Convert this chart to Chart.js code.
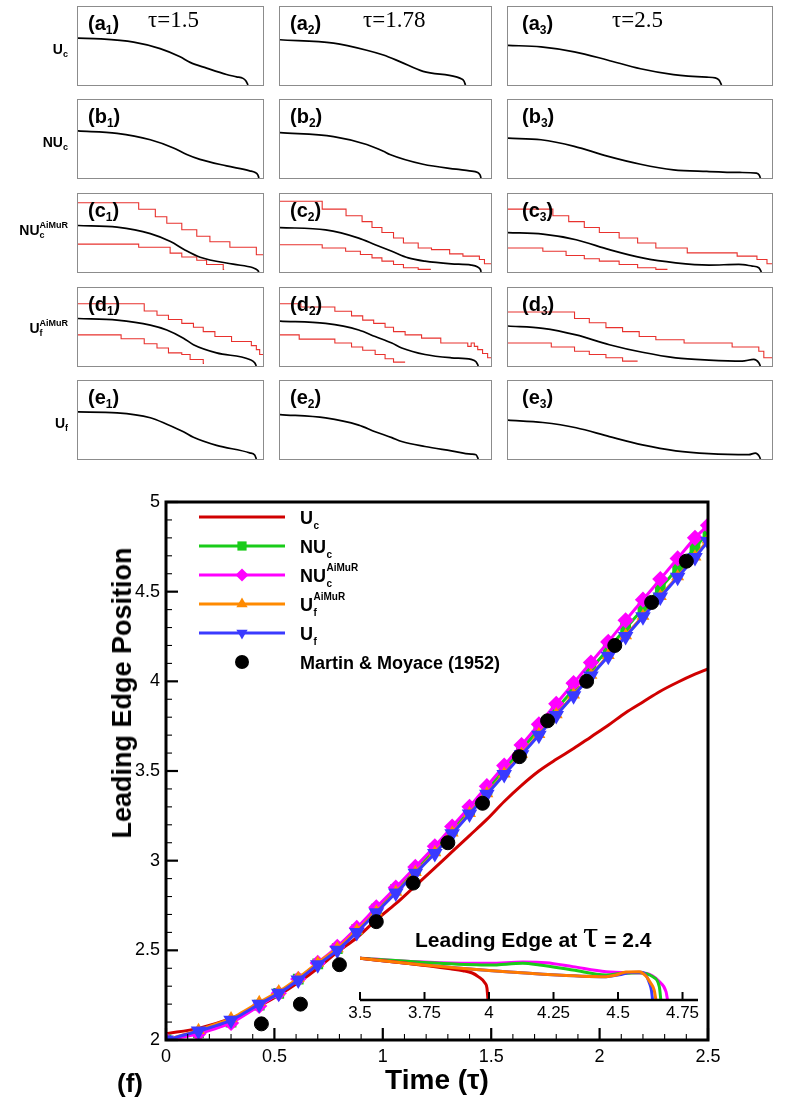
<!DOCTYPE html>
<html>
<head>
<meta charset="utf-8">
<title>Leading edge position</title>
<script src="https://cdn.jsdelivr.net/npm/chart.js@4.4.1/dist/chart.umd.min.js"></script>
<style>
  html, body { margin: 0; padding: 0; background: #fff; }
  body { position: relative; width: 790px; height: 1109px; overflow: hidden;
         font-family: "Liberation Sans", Arial, sans-serif; color: #000; }
  .box { position: absolute; border: 1px solid #8c8c8c; box-sizing: border-box; background: #fff; }
  .box canvas { position: absolute; left: 0; top: 0; }
  .plab { position: absolute; font-weight: bold; font-size: 20px; line-height: 24px; white-space: nowrap; }
  .plab sub { font-size: 12px; line-height: 0; vertical-align: -4px; }
  .tau { position: absolute; font-family: "Liberation Serif", "Times New Roman", serif; font-size: 23px; line-height: 24px; white-space: nowrap; }
  .rlab { position: absolute; left: 0; width: 68px; text-align: right; font-weight: bold; font-size: 14px; line-height: 16px; white-space: nowrap; }
  .ss { display: inline-flex; flex-direction: column; vertical-align: 7px; font-size: 9px; line-height: 10px; text-align: left; }
  .big { position: absolute; font-weight: bold; font-size: 26px; line-height: 30px; white-space: nowrap; }
  #yTitle { position: absolute; left: 122px; top: 693px; transform: translate(-50%, -50%) rotate(-90deg); font-size: 27px; }
  #insetTitle { position: absolute; left: 415px; top: 917px; font-weight: bold; font-size: 21px; line-height: 34px; white-space: nowrap; }
  #insetTitle span { font-family: "Liberation Serif", "Times New Roman", serif; font-weight: normal; font-size: 38px; }
</style>
</head>
<body>
<canvas id="mainChart" width="790" height="639" style="position:absolute;left:0;top:470px"></canvas>
<canvas id="insetChart" width="400" height="95" style="position:absolute;left:330px;top:935px"></canvas>
<div id="insetTitle">Leading Edge at <span>τ</span> = 2.4</div>
<div class="big" id="yTitle">Leading Edge Position</div>
<div class="big" style="left:117px;top:1068px">(f)</div>
<script>
// ---- main chart: leading edge position vs time ----
const tauModel = [0, 0.15, 0.30, 0.43, 0.52, 0.61, 0.70, 0.79, 0.88, 0.97, 1.06, 1.15, 1.24, 1.32, 1.40,
                  1.48, 1.56, 1.64, 1.72, 1.80, 1.88, 1.96, 2.04, 2.12, 2.20, 2.28, 2.36, 2.44, 2.50];
const ucLine = [2.035, 2.065, 2.12, 2.19, 2.25, 2.32, 2.40, 2.49, 2.57, 2.67, 2.76, 2.86, 2.96, 3.05, 3.14,
                3.23, 3.33, 3.42, 3.50, 3.565, 3.625, 3.69, 3.755, 3.825, 3.885, 3.945, 3.995, 4.04, 4.07];
const nucLine = [2.00, 2.04, 2.10, 2.195, 2.26, 2.34, 2.425, 2.51, 2.615, 2.73, 2.84, 2.95, 3.065, 3.175, 3.285,
                 3.395, 3.51, 3.62, 3.735, 3.845, 3.955, 4.07, 4.18, 4.295, 4.405, 4.52, 4.63, 4.745, 4.83];
const nucAimurLine = [2.00, 2.035, 2.095, 2.19, 2.26, 2.34, 2.43, 2.52, 2.625, 2.74, 2.85, 2.965, 3.08, 3.19, 3.30,
                      3.415, 3.53, 3.645, 3.76, 3.875, 3.99, 4.105, 4.22, 4.34, 4.455, 4.57, 4.685, 4.80, 4.87];
const ufAimurLine = [2.00, 2.055, 2.12, 2.21, 2.27, 2.345, 2.43, 2.51, 2.61, 2.715, 2.825, 2.935, 3.045, 3.155, 3.265,
                     3.375, 3.485, 3.595, 3.705, 3.815, 3.925, 4.035, 4.145, 4.255, 4.365, 4.475, 4.585, 4.695, 4.79];
const ufLine = [2.00, 2.05, 2.11, 2.20, 2.26, 2.335, 2.42, 2.50, 2.60, 2.71, 2.82, 2.93, 3.04, 3.15, 3.26,
                3.37, 3.48, 3.59, 3.70, 3.81, 3.92, 4.03, 4.14, 4.25, 4.36, 4.47, 4.58, 4.69, 4.78];
const tauExp = [0.44, 0.62, 0.80, 0.97, 1.14, 1.30, 1.46, 1.63, 1.76, 1.94, 2.07, 2.24, 2.40];
const posExp = [2.09, 2.20, 2.42, 2.66, 2.875, 3.10, 3.32, 3.58, 3.78, 4.00, 4.20, 4.44, 4.67];

// ---- inset: interface shape at tau = 2.4 (x, height) ----
const edgeUc = [[3.5, 0.694], [3.68, 0.611], [3.85, 0.52], [3.899, 0.489], [3.935, 0.45], [3.958, 0.39], [3.985, 0.28], [3.992, 0.2], [3.996, 0]];
const edgeNUc = [[3.5, 0.694], [3.809, 0.611], [4.003, 0.583], [4.131, 0.611], [4.196, 0.583], [4.325, 0.5], [4.454, 0.417], [4.518, 0.444], [4.582, 0.456], [4.634, 0.389], [4.66, 0.222], [4.666, 0]];
const edgeNUcAimur = [[3.5, 0.694], [3.809, 0.622], [4.003, 0.611], [4.131, 0.633], [4.222, 0.622], [4.325, 0.556], [4.454, 0.472], [4.544, 0.456], [4.608, 0.444], [4.66, 0.306], [4.686, 0.139], [4.692, 0]];
const edgeUfAimur = [[3.5, 0.694], [3.68, 0.611], [3.938, 0.511], [4.196, 0.433], [4.454, 0.389], [4.492, 0.417], [4.531, 0.467], [4.582, 0.472], [4.608, 0.4], [4.627, 0.278], [4.64, 0.167], [4.647, 0]];
const edgeUf = [[3.5, 0.694], [3.68, 0.611], [3.938, 0.511], [4.196, 0.433], [4.454, 0.389], [4.505, 0.42], [4.55, 0.46], [4.59, 0.462], [4.61, 0.4], [4.622, 0.28], [4.63, 0.15], [4.634, 0]];

// ---- top panels: normalised interface shapes (x, height) ----
const shapeA1 = [[0, 0.6], [0.122, 0.592], [0.301, 0.55], [0.444, 0.467], [0.552, 0.362], [0.606, 0.29], [0.695, 0.217], [0.803, 0.135], [0.857, 0.105], [0.892, 0.085], [0.908, 0.05], [0.919, 0]];
const shapeA2 = [[0, 0.58], [0.254, 0.537], [0.411, 0.446], [0.49, 0.384], [0.568, 0.3], [0.678, 0.175], [0.835, 0.105], [0.859, 0.08], [0.872, 0.05], [0.879, 0]];
const shapeA3 = [[0, 0.508], [0.125, 0.488], [0.251, 0.425], [0.376, 0.321], [0.502, 0.208], [0.627, 0.133], [0.753, 0.1], [0.785, 0.092], [0.8, 0.06], [0.809, 0]];
const shapeB1 = [[0, 0.603], [0.211, 0.573], [0.391, 0.49], [0.516, 0.385], [0.588, 0.301], [0.659, 0.238], [0.803, 0.155], [0.928, 0.092], [0.958, 0.07], [0.972, 0.04], [0.978, 0]];
const shapeB2 = [[0, 0.582], [0.254, 0.531], [0.411, 0.43], [0.49, 0.343], [0.521, 0.301], [0.678, 0.176], [0.835, 0.113], [0.898, 0.092], [0.937, 0.071], [0.948, 0.04], [0.953, 0]];
const shapeB3 = [[0, 0.51], [0.125, 0.49], [0.251, 0.406], [0.376, 0.28], [0.502, 0.176], [0.627, 0.105], [0.753, 0.084], [0.878, 0.071], [0.941, 0.063], [0.952, 0.035], [0.956, 0]];
const shapeC1 = [[0, 0.596], [0.211, 0.575], [0.391, 0.492], [0.5, 0.39], [0.58, 0.28], [0.66, 0.19], [0.839, 0.1], [0.946, 0.054], [0.97, 0.025], [0.978, 0]];
const shapeC2 = [[0, 0.57], [0.216, 0.54], [0.373, 0.435], [0.451, 0.35], [0.53, 0.266], [0.608, 0.181], [0.687, 0.139], [0.812, 0.105], [0.906, 0.089], [0.937, 0.063], [0.95, 0.03], [0.953, 0]];
const shapeC3 = [[0, 0.506], [0.132, 0.485], [0.258, 0.414], [0.384, 0.287], [0.509, 0.181], [0.635, 0.118], [0.761, 0.089], [0.874, 0.097], [0.925, 0.076], [0.95, 0.055], [0.96, 0]];
const shapeD1 = [[0, 0.609], [0.211, 0.588], [0.391, 0.525], [0.48, 0.462], [0.57, 0.357], [0.624, 0.273], [0.749, 0.168], [0.928, 0.084], [0.955, 0.042], [0.964, 0]];
const shapeD2 = [[0, 0.576], [0.216, 0.546], [0.373, 0.462], [0.451, 0.378], [0.53, 0.294], [0.577, 0.231], [0.687, 0.147], [0.812, 0.105], [0.906, 0.084], [0.929, 0.055], [0.94, 0]];
const shapeD3 = [[0, 0.513], [0.132, 0.483], [0.258, 0.399], [0.384, 0.273], [0.509, 0.176], [0.635, 0.105], [0.761, 0.076], [0.887, 0.063], [0.931, 0.084], [0.95, 0.042], [0.956, 0]];
const shapeE1 = [[0, 0.604], [0.211, 0.592], [0.391, 0.529], [0.48, 0.446], [0.57, 0.35], [0.624, 0.279], [0.749, 0.175], [0.928, 0.079], [0.955, 0.05], [0.964, 0]];
const shapeE2 = [[0, 0.57], [0.216, 0.527], [0.373, 0.435], [0.451, 0.35], [0.53, 0.274], [0.577, 0.224], [0.687, 0.16], [0.812, 0.105], [0.906, 0.063], [0.929, 0.055], [0.94, 0]];
const shapeE3 = [[0, 0.498], [0.132, 0.468], [0.258, 0.401], [0.384, 0.287], [0.509, 0.181], [0.635, 0.105], [0.761, 0.068], [0.912, 0.055], [0.937, 0.076], [0.952, 0.034], [0.956, 0]];

// refinement-level boundaries (each point: x where the level starts, level)
const stepC1Hi = [[0, 0.8875], [0.328, 0.804], [0.418, 0.708], [0.48, 0.625], [0.561, 0.542], [0.642, 0.458], [0.713, 0.3875], [0.821, 0.317], [0.964, 0.221], [1, 0.221]];
const stepC1Lo = [[0, 0.358], [0.328, 0.317], [0.498, 0.242], [0.561, 0.192], [0.642, 0.15], [0.695, 0.096], [0.785, 0.033], [0.79, 0.033]];
const stepC2Hi = [[0, 0.907], [0.2, 0.806], [0.313, 0.722], [0.389, 0.646], [0.436, 0.57], [0.483, 0.506], [0.538, 0.435], [0.585, 0.371], [0.655, 0.308], [0.718, 0.287], [0.804, 0.232], [0.867, 0.203], [0.945, 0.16], [0.969, 0.105], [1, 0.105]];
const stepC2Lo = [[0, 0.35], [0.2, 0.308], [0.311, 0.266], [0.381, 0.224], [0.436, 0.181], [0.483, 0.139], [0.538, 0.097], [0.585, 0.055], [0.655, 0.034], [0.715, 0.034]];
const stepC3Hi = [[0, 0.806], [0.17, 0.722], [0.23, 0.646], [0.289, 0.57], [0.346, 0.506], [0.421, 0.435], [0.491, 0.371], [0.56, 0.308], [0.679, 0.245], [0.868, 0.203], [0.943, 0.16], [0.981, 0.105], [1, 0.105]];
const stepC3Lo = [[0, 0.308], [0.132, 0.266], [0.22, 0.211], [0.289, 0.169], [0.346, 0.139], [0.421, 0.097], [0.491, 0.055], [0.56, 0.034], [0.604, 0.034]];
const stepD1Hi = [[0, 0.798], [0.358, 0.706], [0.427, 0.651], [0.489, 0.597], [0.561, 0.546], [0.624, 0.496], [0.677, 0.441], [0.74, 0.378], [0.83, 0.315], [0.937, 0.261], [0.964, 0.21], [0.982, 0.147], [1, 0.147]];
const stepD1Lo = [[0, 0.399], [0.233, 0.349], [0.358, 0.286], [0.427, 0.231], [0.489, 0.168], [0.561, 0.147], [0.606, 0.084], [0.677, 0.034], [0.681, 0.034]];
const stepD2Hi = [[0, 0.798], [0.099, 0.756], [0.26, 0.702], [0.339, 0.643], [0.392, 0.588], [0.444, 0.546], [0.498, 0.496], [0.538, 0.441], [0.593, 0.399], [0.671, 0.357], [0.762, 0.294], [0.89, 0.252], [0.906, 0.294], [0.921, 0.252], [0.937, 0.21], [0.96, 0.16], [0.984, 0.105], [1, 0.105]];
const stepD2Lo = [[0, 0.399], [0.091, 0.345], [0.26, 0.294], [0.339, 0.244], [0.392, 0.202], [0.451, 0.147], [0.498, 0.092], [0.538, 0.05], [0.593, 0.05]];
const stepD3Hi = [[0, 0.693], [0.252, 0.609], [0.308, 0.555], [0.371, 0.492], [0.434, 0.441], [0.497, 0.378], [0.56, 0.336], [0.667, 0.294], [0.849, 0.244], [0.95, 0.189], [0.969, 0.105], [1, 0.105]];
const stepD3Lo = [[0, 0.294], [0.164, 0.244], [0.252, 0.189], [0.308, 0.147], [0.371, 0.105], [0.434, 0.063], [0.491, 0.063]];

const rowNames = ['U_c', 'NU_c', 'NU_c^AiMuR', 'U_f^AiMuR', 'U_f'];
const panelTaus = ['1.5', '1.78', '2.5'];
const panelShapes = [
    [shapeA1, shapeA2, shapeA3],
    [shapeB1, shapeB2, shapeB3],
    [shapeC1, shapeC2, shapeC3],
    [shapeD1, shapeD2, shapeD3],
    [shapeE1, shapeE2, shapeE3]
];
const panelSteps = {
    2: [[stepC1Hi, stepC1Lo], [stepC2Hi, stepC2Lo], [stepC3Hi, stepC3Lo]],
    3: [[stepD1Hi, stepD1Lo], [stepD2Hi, stepD2Lo], [stepD3Hi, stepD3Lo]]
};

// layout of the small panels
const colLeft = [77, 279, 507];
const colWidth = [187, 213, 266];
const rowTop = [6, 99, 193, 287, 380];
const rowHeight = 80;
const rowLabelTop = [39, 132, 220, 318, 413];

Chart.defaults.font.family = '"Liberation Sans", Arial, sans-serif';
Chart.defaults.color = '#000';

const toXY = pts => pts.map(p => ({ x: p[0], y: p[1] }));
const isMajor = (v, step) => Math.abs(v / step - Math.round(v / step)) < 1e-6;

function splitName(name) {
    const m = name.match(/^([^_^]*)(?:_([^\^]*))?(?:\^(.*))?$/);
    return { base: m[1], sub: m[2] || '', sup: m[3] || '' };
}

// ---- small panels ----
function makePanel(r, c) {
    const box = document.createElement('div');
    box.className = 'box';
    box.style.left = colLeft[c] + 'px';
    box.style.top = rowTop[r] + 'px';
    box.style.width = colWidth[c] + 'px';
    box.style.height = rowHeight + 'px';
    const cv = document.createElement('canvas');
    cv.width = colWidth[c] - 2;
    cv.height = rowHeight - 2;
    box.appendChild(cv);
    document.body.appendChild(box);

    const datasets = [{
        data: toXY(panelShapes[r][c]),
        borderColor: '#000', borderWidth: 1.7,
        cubicInterpolationMode: 'monotone', pointRadius: 0
    }];
    (panelSteps[r] ? panelSteps[r][c] : []).forEach(s => {
        datasets.push({ data: toXY(s), stepped: true, borderColor: '#e8322e', borderWidth: 1.1, pointRadius: 0 });
    });

    new Chart(cv, {
        type: 'line',
        data: { datasets },
        options: {
            responsive: false, animation: false, events: [],
            layout: { padding: 0 },
            plugins: { legend: { display: false }, tooltip: { enabled: false } },
            scales: {
                x: { type: 'linear', min: 0, max: 1, display: false },
                y: { min: 0, max: 1, display: false }
            }
        }
    });

    const lab = document.createElement('div');
    lab.className = 'plab';
    lab.style.left = (colLeft[c] + (c === 2 ? 15 : 11)) + 'px';
    lab.style.top = (rowTop[r] + 5) + 'px';
    lab.innerHTML = '(' + 'abcde'[r] + '<sub>' + (c + 1) + '</sub>)';
    document.body.appendChild(lab);
}

for (let r = 0; r < 5; r++) {
    for (let c = 0; c < 3; c++) makePanel(r, c);
    const n = splitName(rowNames[r]);
    const rl = document.createElement('div');
    rl.className = 'rlab';
    rl.style.top = rowLabelTop[r] + 'px';
    rl.innerHTML = n.base + '<span class="ss"><span>' + (n.sup || '&nbsp;') + '</span><span>' + n.sub + '</span></span>';
    document.body.appendChild(rl);
}
const tauLeft = [148, 363, 612];
panelTaus.forEach((t, i) => {
    const d = document.createElement('div');
    d.className = 'tau';
    d.style.left = tauLeft[i] + 'px';
    d.style.top = '8px';
    d.textContent = 'τ=' + t;
    document.body.appendChild(d);
});

// ---- marker drawing shared by legend ----
function drawMarker(ctx, style, x, y, r, color, rotation) {
    ctx.save();
    ctx.fillStyle = color;
    ctx.beginPath();
    if (style === 'rect') {
        const s = r * Math.SQRT1_2;
        ctx.rect(x - s, y - s, 2 * s, 2 * s);
    } else if (style === 'rectRot') {
        ctx.moveTo(x, y - r); ctx.lineTo(x + r, y); ctx.lineTo(x, y + r); ctx.lineTo(x - r, y); ctx.closePath();
    } else if (style === 'triangle') {
        const k = rotation ? -1 : 1;
        ctx.moveTo(x, y - k * r);
        ctx.lineTo(x + r * 0.866, y + k * r * 0.5);
        ctx.lineTo(x - r * 0.866, y + k * r * 0.5);
        ctx.closePath();
    } else {
        ctx.arc(x, y, r, 0, Math.PI * 2);
    }
    ctx.fill();
    ctx.restore();
}

const mainFrame = {
    id: 'mainFrame',
    afterDraw(chart) {
        const { ctx, chartArea: a, scales } = chart;
        ctx.save();
        ctx.strokeStyle = '#000';
        scales.x.ticks.forEach(t => {
            const px = scales.x.getPixelForValue(t.value);
            const major = isMajor(t.value, 0.5);
            ctx.lineWidth = major ? 2.2 : 1.1;
            ctx.beginPath(); ctx.moveTo(px, a.bottom); ctx.lineTo(px, a.bottom - (major ? 12 : 6)); ctx.stroke();
        });
        scales.y.ticks.forEach(t => {
            const py = scales.y.getPixelForValue(t.value);
            const major = isMajor(t.value, 0.5);
            ctx.lineWidth = major ? 2.2 : 1.1;
            ctx.beginPath(); ctx.moveTo(a.left, py); ctx.lineTo(a.left + (major ? 12 : 6), py); ctx.stroke();
        });
        ctx.lineWidth = 3;
        ctx.strokeRect(a.left, a.top, a.right - a.left, a.bottom - a.top);

        // legend
        chart.data.datasets.forEach((ds, i) => {
            const y = a.top + 15 + i * 29;
            const x0 = a.left + 33, x1 = a.left + 119, xm = a.left + 76;
            if (ds.showLine !== false) {
                ctx.strokeStyle = ds.borderColor; ctx.lineWidth = ds.borderWidth;
                ctx.beginPath(); ctx.moveTo(x0, y); ctx.lineTo(x1, y); ctx.stroke();
            }
            if (ds.legendMarker) drawMarker(ctx, ds.pointStyle, xm, y, ds.legendMarker, ds.pointBackgroundColor, ds.pointRotation);
            const n = splitName(ds.label);
            let tx = a.left + 134;
            ctx.fillStyle = '#000';
            ctx.textBaseline = 'alphabetic';
            ctx.font = 'bold 18px "Liberation Sans", Arial, sans-serif';
            ctx.fillText(n.base, tx, y + 6.5);
            tx += ctx.measureText(n.base).width + 0.5;
            ctx.font = 'bold 10px "Liberation Sans", Arial, sans-serif';
            if (n.sub) ctx.fillText(n.sub, tx, y + 12);
            if (n.sup) ctx.fillText(n.sup, tx, y - 4);
        });
        ctx.restore();
    }
};

const xy = (xs, ys) => xs.map((x, i) => ({ x, y: ys[i] }));

new Chart(document.getElementById('mainChart'), {
    type: 'line',
    data: {
        datasets: [
            { label: 'U_c', data: xy(tauModel, ucLine), borderColor: '#d00000', borderWidth: 3,
              pointRadius: 0, cubicInterpolationMode: 'monotone', order: 5 },
            { label: 'NU_c', data: xy(tauModel, nucLine), borderColor: '#19cc19', borderWidth: 3,
              pointStyle: 'rect', pointRadius: 5.5, pointBackgroundColor: '#19cc19', pointBorderColor: '#19cc19',
              legendMarker: 6.5, tension: 0.2, order: 4 },
            { label: 'NU_c^AiMuR', data: xy(tauModel, nucAimurLine), borderColor: '#ff00ff', borderWidth: 3,
              pointStyle: 'rectRot', pointRadius: 6, pointBackgroundColor: '#ff00ff', pointBorderColor: '#ff00ff',
              legendMarker: 6.5, tension: 0.2, order: 3 },
            { label: 'U_f^AiMuR', data: xy(tauModel, ufAimurLine), borderColor: '#ff8a00', borderWidth: 3,
              pointStyle: 'triangle', pointRadius: 4.5, pointBackgroundColor: '#ff8a00', pointBorderColor: '#ff8a00',
              legendMarker: 6.5, tension: 0.2, order: 2 },
            { label: 'U_f', data: xy(tauModel, ufLine), borderColor: '#3a3aff', borderWidth: 3,
              pointStyle: 'triangle', pointRotation: 180, pointRadius: 6, pointBackgroundColor: '#3a3aff', pointBorderColor: '#3a3aff',
              legendMarker: 6.5, tension: 0.2, order: 1 },
            { label: 'Martin & Moyace (1952)', data: xy(tauExp, posExp), showLine: false,
              pointStyle: 'circle', pointRadius: 7, pointBackgroundColor: '#000', pointBorderColor: '#000',
              legendMarker: 7, order: 0 }
        ]
    },
    options: {
        responsive: false, animation: false, events: [],
        layout: { padding: { left: 108, right: 82, top: 32, bottom: 11 } },
        plugins: { legend: { display: false }, tooltip: { enabled: false } },
        scales: {
            x: {
                type: 'linear', min: 0, max: 2.5,
                grid: { display: false, drawTicks: false }, border: { display: false },
                afterFit: s => { s.height = 58; },
                ticks: { stepSize: 0.1, autoSkip: false, maxRotation: 0, padding: 6, font: { size: 18 },
                         callback: v => isMajor(v, 0.5) ? String(Math.round(v * 10) / 10) : '' },
                title: { display: true, text: 'Time (τ)', font: { size: 28, weight: 'bold' }, padding: 0 }
            },
            y: {
                min: 2, max: 5,
                grid: { display: false, drawTicks: false }, border: { display: false },
                afterFit: s => { s.width = 58; },
                ticks: { stepSize: 0.1, autoSkip: false, padding: 6, font: { size: 18 },
                         callback: v => isMajor(v, 0.5) ? String(Math.round(v * 10) / 10) : '' }
            }
        }
    },
    plugins: [mainFrame]
});

// ---- inset ----
const insetAxis = {
    id: 'insetAxis',
    afterDraw(chart) {
        const { ctx, chartArea: a, scales } = chart;
        ctx.save();
        ctx.strokeStyle = '#000';
        ctx.lineWidth = 2.5;
        ctx.beginPath(); ctx.moveTo(a.left, a.bottom); ctx.lineTo(a.right, a.bottom); ctx.stroke();
        ctx.lineWidth = 2;
        scales.x.ticks.forEach(t => {
            const px = scales.x.getPixelForValue(t.value);
            ctx.beginPath(); ctx.moveTo(px, a.bottom); ctx.lineTo(px, a.bottom - 8); ctx.stroke();
        });
        ctx.restore();
    }
};

const edgeSet = (pts, color, order) => ({
    data: toXY(pts), borderColor: color, borderWidth: 3, pointRadius: 0,
    cubicInterpolationMode: 'monotone', order
});

new Chart(document.getElementById('insetChart'), {
    type: 'line',
    data: {
        datasets: [
            edgeSet(edgeNUcAimur, '#ff00ff', 4),
            edgeSet(edgeNUc, '#19cc19', 3),
            edgeSet(edgeUf, '#3a3aff', 2),
            edgeSet(edgeUc, '#d00000', 1),
            edgeSet(edgeUfAimur, '#ff7a00', 0)
        ]
    },
    options: {
        responsive: false, animation: false, events: [],
        layout: { padding: { left: 30, right: 32, top: 5, bottom: 2 } },
        plugins: { legend: { display: false }, tooltip: { enabled: false } },
        scales: {
            x: {
                type: 'linear', min: 3.5, max: 4.81,
                grid: { display: false, drawTicks: false }, border: { display: false },
                afterBuildTicks: s => { s.ticks = s.ticks.filter(t => isMajor(t.value - 3.5, 0.25)); },
                afterFit: s => { s.height = 28; },
                ticks: { stepSize: 0.25, includeBounds: false, autoSkip: false, maxRotation: 0, padding: 3, font: { size: 17 },
                         callback: v => String(Math.round(v * 100) / 100) }
            },
            y: { min: 0, max: 1, display: false }
        }
    },
    plugins: [insetAxis]
});
</script>
</body>
</html>
